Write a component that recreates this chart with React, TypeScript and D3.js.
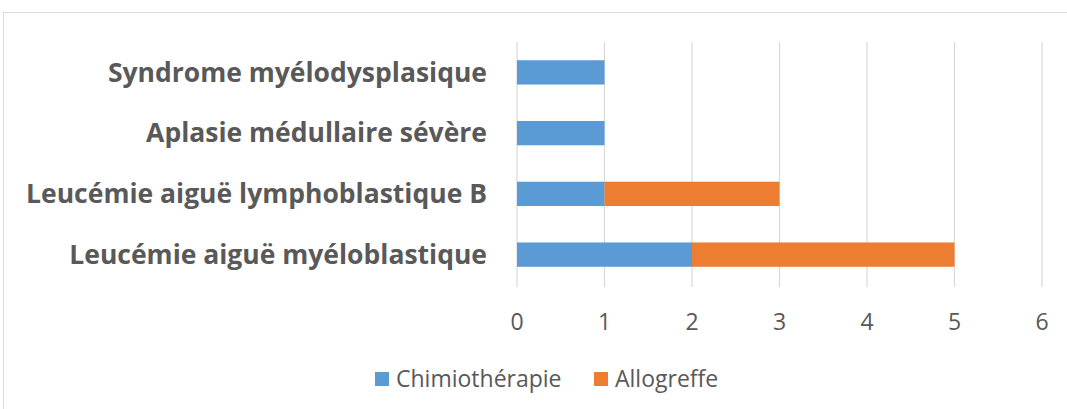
import * as d3 from 'd3';

const categories = [
  'Syndrome myélodysplasique',
  'Aplasie médullaire sévère',
  'Leucémie aiguë lymphoblastique B',
  'Leucémie aiguë myéloblastique',
];
const chimiotherapie = [1, 1, 1, 2];
const allogreffe = [0, 0, 2, 3];
const seriesNames = ['Chimiothérapie', 'Allogreffe'];
const seriesColors = ['#5B9BD5', '#ED7D31'];
const xTicks = [0, 1, 2, 3, 4, 5, 6];

const W = 1067;
const H = 409;
const FONT = "'Open Sans', 'Noto Sans', sans-serif";
const TEXT = '#595959';

export default function App() {
  const x = d3.scaleLinear().domain([0, 6]).range([517, 1042]);
  const y = d3.scaleBand<string>().domain(categories).range([42, 285]).paddingInner(0.6).paddingOuter(0.3);

  const rows = categories.map((c, i) => ({ cat: c, chimio: chimiotherapie[i], allo: allogreffe[i] }));
  const stack = d3.stack<{ cat: string; chimio: number; allo: number }>().keys(['chimio', 'allo']);
  const layers = stack(rows);

  return (
    <div style={{ position: 'absolute', left: 0, top: 0 }}>
      <svg width={W} height={H} style={{ display: 'block', fontFamily: FONT }}>
        <rect x={0} y={0} width={W} height={H} fill="#fff" />
        <path d={`M3.5,${H + 2}V12.5H${W + 2}`} fill="none" stroke="#D9D9D9" strokeWidth={1} />
        {xTicks.map((t) => (
          <line key={t} x1={x(t)} x2={x(t)} y1={42} y2={287} stroke="#D9D9D9" strokeWidth={1.2} />
        ))}
        {layers.map((layer, li) => (
          <g key={li} fill={seriesColors[li]}>
            {layer.map((d) => (
              d[1] - d[0] > 0 ? (
                <rect
                  key={d.data.cat}
                  x={x(d[0])}
                  y={y(d.data.cat)!}
                  width={x(d[1]) - x(d[0])}
                  height={y.bandwidth()}
                />
              ) : null
            ))}
          </g>
        ))}
        {categories.map((c) => (
          <text
            key={c}
            x={487}
            y={y(c)! + y.bandwidth() / 2}
            dy="0.35em"
            textAnchor="end"
            fontSize={26.5}
            fontWeight={700}
            fill={TEXT}
          >
            {c}
          </text>
        ))}
        {xTicks.map((t) => (
          <text key={t} x={x(t)} y={322} dy="0.35em" textAnchor="middle" fontSize={23} fill={TEXT}>
            {t}
          </text>
        ))}
        <g>
          <rect x={375} y={372} width={14} height={14} fill={seriesColors[0]} />
          <text x={396} y={379} dy="0.35em" fontSize={23} fill={TEXT}>{seriesNames[0]}</text>
          <rect x={594} y={372} width={14} height={14} fill={seriesColors[1]} />
          <text x={615} y={379} dy="0.35em" fontSize={23} fill={TEXT}>{seriesNames[1]}</text>
        </g>
      </svg>
    </div>
  );
}
